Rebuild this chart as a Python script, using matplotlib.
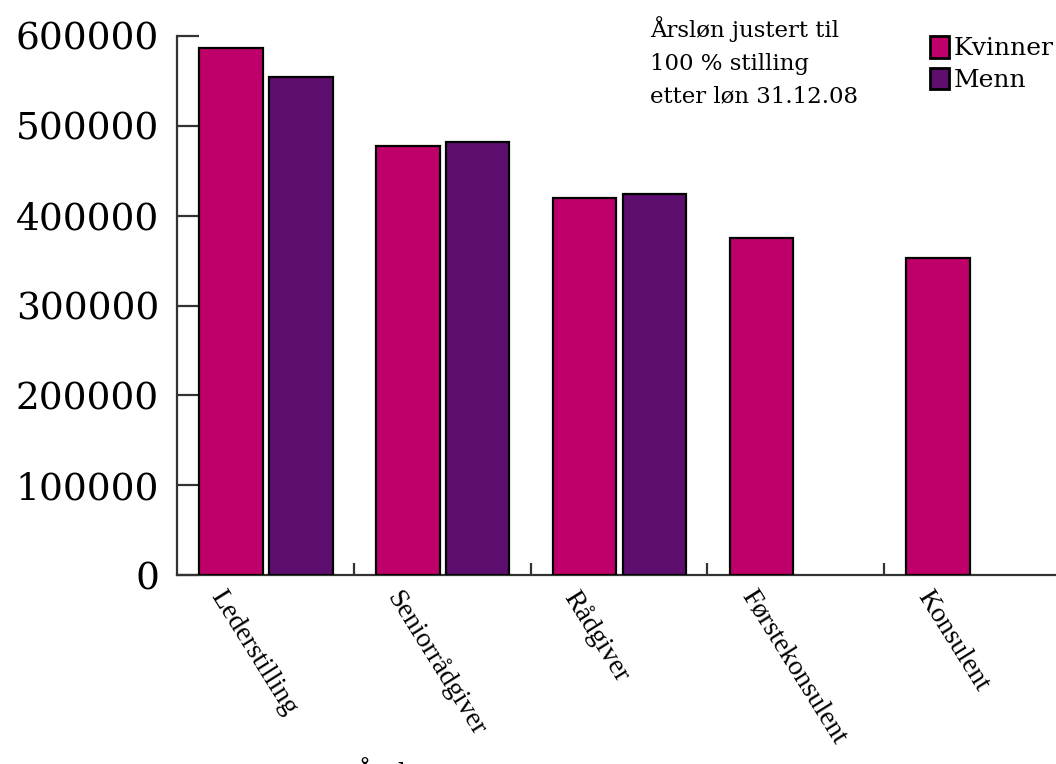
import matplotlib
matplotlib.use("Agg")
import matplotlib.pyplot as plt
from matplotlib.patches import Patch

categories = ["Lederstilling", "Seniorrådgiver", "Rådgiver", "Førstekonsulent", "Konsulent"]
kvinner = [587000, 477500, 419500, 375500, 352500]
menn = [554000, 482500, 424000, None, None]
yticks = [0, 100000, 200000, 300000, 400000, 500000, 600000]

KVINNER_COLOR = "#C0006A"
MENN_COLOR = "#5E0E6E"
SPINE_COLOR = "#333333"

fig = plt.figure(figsize=(10.56, 7.64), dpi=100)
ax = fig.add_axes([177 / 1056, 1 - 575 / 764, (1061 - 177) / 1056, (575 - 36) / 764])

bar_w = 0.36
for i, (k, m) in enumerate(zip(kvinner, menn)):
    ax.bar(i + 0.305, k, width=bar_w, color=KVINNER_COLOR, edgecolor="black", linewidth=1.6, zorder=3)
    if m is not None:
        ax.bar(i + 0.70, m, width=bar_w, color=MENN_COLOR, edgecolor="black", linewidth=1.6, zorder=3)

ax.set_xlim(0, len(categories))
ax.set_ylim(0, 600000)

for s in ["top", "right"]:
    ax.spines[s].set_visible(False)
for s in ["left", "bottom"]:
    ax.spines[s].set_color(SPINE_COLOR)
    ax.spines[s].set_linewidth(1.6)

ax.set_yticks(yticks)
ax.set_yticklabels([str(v) for v in yticks], family="DejaVu Serif", fontsize=27)
ax.tick_params(axis="y", direction="in", length=16, width=1.6, color=SPINE_COLOR, pad=13)

ax.set_xticks(range(1, len(categories)))
ax.set_xticklabels([])
ax.tick_params(axis="x", direction="in", length=9, width=1.6, color=SPINE_COLOR)

# category labels, rotated
for i, name in enumerate(categories):
    ax.text(i + 0.5 - 0.22, -12000, name, rotation=-58, rotation_mode="anchor",
            ha="left", va="top", family="Liberation Serif", fontsize=20)

fig.text(650 / 1056, 1 - 16 / 764, "Årsløn justert til\n100 % stilling\netter løn 31.12.08",
         ha="left", va="top", family="DejaVu Serif", fontsize=16.5, linespacing=1.63)

handles = [Patch(facecolor=KVINNER_COLOR, edgecolor="black", linewidth=2, label="Kvinner"),
           Patch(facecolor=MENN_COLOR, edgecolor="black", linewidth=2, label="Menn")]
fig.legend(handles=handles, loc="upper left", bbox_to_anchor=(930 / 1056, 1 - 36 / 764),
           frameon=False, prop={"family": "DejaVu Serif", "size": 18},
           handlelength=0.75, handleheight=0.95, handletextpad=0.2, labelspacing=0.3,
           borderpad=0, borderaxespad=0)

# cut-off title at the bottom edge
fig.text(355 / 1056, 1 - 761 / 764, "Årsløn", ha="left", va="top",
         family="DejaVu Serif", fontsize=18)

fig.savefig("out.png", dpi=100)
